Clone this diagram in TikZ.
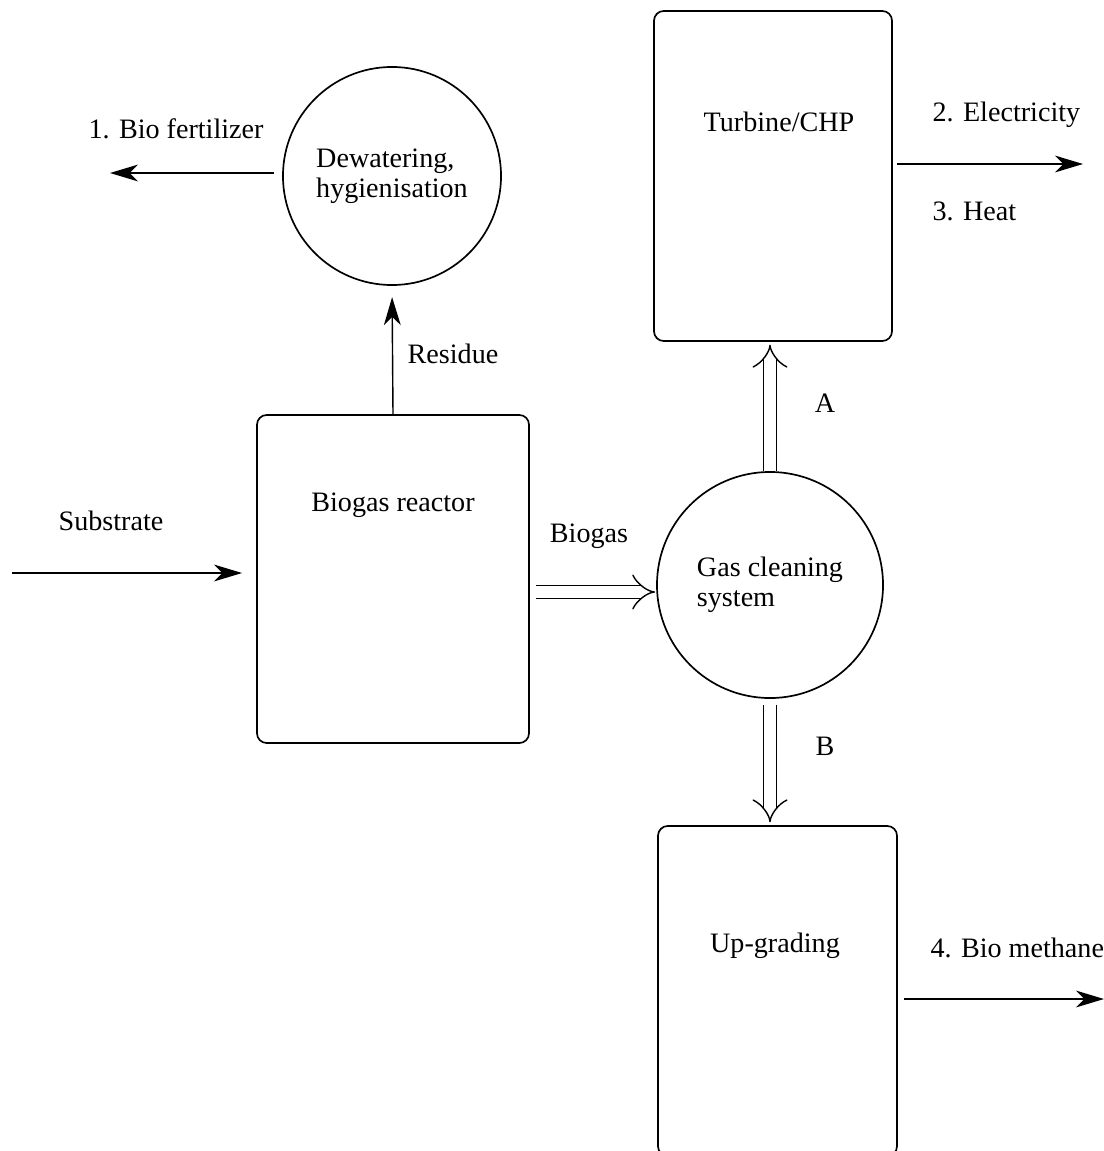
\documentclass[tikz,border=0pt]{standalone}
\usepackage{fontspec}
\setmainfont{Liberation Serif}
\usetikzlibrary{arrows.meta, positioning}

\begin{document}
\begin{tikzpicture}[x=0.0125cm, y=-0.0125cm,
    font=\fontsize{10}{10.5}\selectfont,
    unit/.style = {rectangle, draw, line width=0.6pt, rounded corners=3.5pt},
    proc/.style = {circle, draw, line width=0.6pt, inner sep=0pt, align=left},
    arr/.style = {line width=0.5pt, -{Stealth[length=10pt, width=6pt, inset=3pt]}},
    pipe/.style = {double, double distance=4pt, line width=0.5pt, -{Implies[scale=1.4]}}]
    \useasboundingbox (0,0) rectangle (1104,1151);
    % units and process circles
    \node[unit, minimum width=3.4cm, minimum height=4.1cm] (react) at (393,579) {};
    \node[proc, minimum size=2.725cm] (dewater) at (392,176) {Dewatering,\\hygienisation};
    \node[proc, minimum size=2.825cm] (gascl) at (770,585) {Gas cleaning\\system};
    \node[unit, minimum width=2.975cm, minimum height=4.125cm] (turb) at (773,176) {};
    \node[unit, minimum width=2.9875cm, minimum height=4.125cm] (upgr) at (777.5,991) {};
    % texts in the boxes
    \node (reactlbl) at (393,505) {Biogas reactor};
    \node (turblbl) at (779,122) {Turbine/CHP};
    \node (upgrlbl) at (775,946) {Up-grading};
    % free ends
    \coordinate (subin) at (12,573);
    \coordinate (fertout) at (110,173);
    \coordinate (elecout) at (1083,164);
    \coordinate (methout) at (1104,999);
    % flows
    \draw[arr, shorten >=5pt] (subin) -- (subin -| react.west);
    \draw[arr, shorten >=4pt] (react.north) -- (dewater.south);
    \draw[arr, shorten <=3pt] (dewater.west |- fertout) -- (fertout);
    \draw[pipe] ([shift={(6,7)}]react.east |- gascl.west) -- ([shift={(-1,7)}]gascl.west);
    \draw[pipe, shorten >=1pt] (gascl.north) -- (gascl.north |- turb.south);
    \draw[pipe, shorten <=2pt, shorten >=1pt] (gascl.south) -- (gascl.south |- upgr.north);
    \draw[arr, shorten <=1.5pt] (turb.east |- elecout) -- (elecout);
    \draw[arr, shorten <=2pt] (upgr.east |- methout) -- (methout);
    % labels
    \node (sublbl) at (111,521) {Substrate};
    \node (reslbl) at (453,354) {Residue};
    \node[anchor=west, inner sep=0pt] (fertlbl) at (88,129) {1. Bio fertilizer};
    \node (gaslbl) at (589,536) {Biogas};
    \node (albl) at (825,403) {A};
    \node (blbl) at (825,746) {B};
    \node[anchor=west, inner sep=0pt] (eleclbl) at (932,115) {2. Electricity};
    \node[anchor=west, inner sep=0pt] (heatlbl) at (932,211) {3. Heat};
    \node[anchor=west, inner sep=0pt] (methlbl) at (930,948) {4. Bio methane};
\end{tikzpicture}
\end{document}
